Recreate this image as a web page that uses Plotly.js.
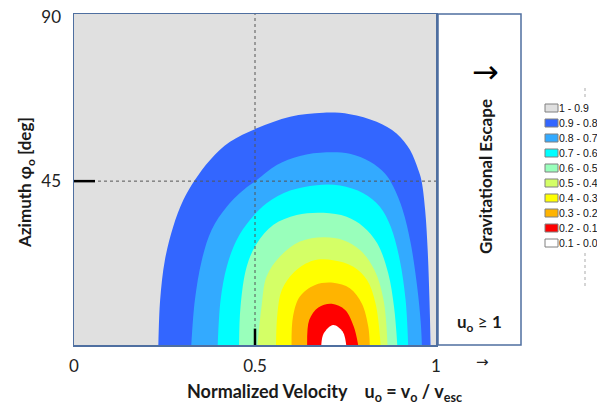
<!DOCTYPE html>
<html>
<head>
<meta charset="utf-8">
<script src="https://cdn.plot.ly/plotly-3.0.1.min.js"></script>
<style>
  html, body { margin: 0; padding: 0; background: #ffffff; }
  #chart { width: 597px; height: 408px; }
</style>
</head>
<body>
<div id="chart"></div>
<script>
// Probability bands, outermost first
const bandLabels = ['1 - 0.9', '0.9 - 0.8', '0.8 - 0.7', '0.7 - 0.6', '0.6 - 0.5',
                    '0.5 - 0.4', '0.4 - 0.3', '0.3 - 0.2', '0.2 - 0.1', '0.1 - 0.0'];
const bandColors = ['#e0e0e0', '#3366ff', '#33aaff', '#00ffff', '#99ffbb',
                    '#d4ff66', '#ffff00', '#ffb400', '#ff0000', '#ffffff'];

// Contour boundaries: normalized velocity u and azimuth phi [deg]
const level09U   = [0.233, 0.238, 0.251, 0.274, 0.302, 0.334, 0.376, 0.431, 0.505, 0.597, 0.689, 0.762, 0.836, 0.891, 0.928, 0.951, 0.960, 0.970, 0.977, 0.982, 0.985];
const level09Phi = [0, 12.4, 23.3, 32.5, 39.8, 45.3, 50.8, 55.8, 59.5, 62.7, 63.8, 63.4, 61.3, 58.1, 53.6, 48.1, 45.1, 37.1, 26.1, 12.4, 0];

const level08U   = [0.324, 0.334, 0.353, 0.380, 0.422, 0.477, 0.505, 0.560, 0.624, 0.698, 0.762, 0.818, 0.859, 0.882, 0.908, 0.930, 0.948, 0.958, 0.961];
const level08Phi = [0, 12.4, 23.3, 31.6, 38.0, 43.3, 45.3, 49.4, 51.9, 52.9, 52.5, 50.3, 47.1, 43.5, 37.1, 28.0, 16.0, 6.0, 0];

const level07U   = [0.397, 0.405, 0.422, 0.449, 0.486, 0.532, 0.597, 0.670, 0.735, 0.799, 0.845, 0.875, 0.900, 0.916, 0.923];
const level07Phi = [0, 12.4, 21.5, 28.8, 34.3, 38.9, 42.4, 43.9, 43.8, 41.7, 38.0, 32.5, 23.3, 12.4, 0];

const level06U   = [0.456, 0.460, 0.477, 0.505, 0.551, 0.615, 0.689, 0.753, 0.799, 0.838, 0.868, 0.884, 0.893];
const level06Phi = [0, 10.5, 21.5, 27.9, 33.0, 35.7, 36.3, 35.2, 32.5, 27.9, 19.7, 10.5, 0];

const level05U   = [0.507, 0.518, 0.532, 0.569, 0.624, 0.689, 0.744, 0.790, 0.830, 0.855, 0.866];
const level05Phi = [0, 10.5, 18.8, 24.3, 28.4, 29.6, 28.8, 26.1, 20.6, 12.4, 0];

const level04U   = [0.558, 0.562, 0.574, 0.609, 0.661, 0.716, 0.772, 0.809, 0.833, 0.847];
const level04Phi = [0, 8.7, 15.1, 20.1, 23.2, 23.3, 21.5, 17.9, 11.4, 0];

const level03U   = [0.601, 0.605, 0.624, 0.666, 0.716, 0.762, 0.795, 0.813, 0.817];
const level03Phi = [0, 7.8, 13.3, 16.5, 17.1, 15.6, 11.4, 5.0, 0];

const level02U   = [0.644, 0.650, 0.675, 0.712, 0.749, 0.773, 0.785];
const level02Phi = [0, 6.9, 10.3, 11.3, 9.6, 5.0, 0];

const level01U   = [0.683, 0.690, 0.716, 0.742, 0.752];
const level01Phi = [0, 3.2, 5.5, 3.7, 0];

// Axis ticks
const xTickVals = [0, 0.5, 1];
const xTickText = ['0', '0.5', '1'];
const yTickVals = [45, 90];
const yTickText = ['45', '90'];

const boundaries = [
  [level09U, level09Phi], [level08U, level08Phi], [level07U, level07Phi],
  [level06U, level06Phi], [level05U, level05Phi], [level04U, level04Phi],
  [level03U, level03Phi], [level02U, level02Phi], [level01U, level01Phi]
];

// Each boundary encloses the band below it; inner bands are drawn over outer ones
const traces = boundaries.map(([u, phi], i) => ({
  type: 'scatter',
  mode: 'lines',
  x: u,
  y: phi,
  fill: 'toself',
  fillcolor: bandColors[i + 1],
  line: { width: 0, shape: 'spline', smoothing: 1, color: bandColors[i + 1] },
  hoverinfo: 'skip',
  showlegend: false,
  name: bandLabels[i + 1]
}));

const borderColor = 'rgb(79,111,160)';
const textFont = 'Lato, "Open Sans", sans-serif';

// Pixel helpers for the paper-referenced extras around the plot
const L = 74, R = 436, T = 14, B = 345;
const px = x => (x - L) / (R - L);
const py = y => (B - y) / (B - T);

const shapes = [
  // reference lines at phi = 45 deg and u = 0.5
  { type: 'line', xref: 'x', yref: 'y', x0: 0, x1: 1, y0: 45, y1: 45,
    line: { color: '#555', width: 1, dash: '3px,3px' }, layer: 'above' },
  { type: 'line', xref: 'x', yref: 'y', x0: 0.5, x1: 0.5, y0: 0, y1: 90.9,
    line: { color: '#555', width: 1, dash: '3px,3px' }, layer: 'above' },
  { type: 'line', xref: 'x', yref: 'y', x0: 0, x1: 0.058, y0: 45, y1: 45,
    line: { color: '#000', width: 2.5 }, layer: 'above' },
  { type: 'line', xref: 'x', yref: 'y', x0: 0.5, x1: 0.5, y0: 0, y1: 4.5,
    line: { color: '#000', width: 2.5 }, layer: 'above' },
  // escape panel
  { type: 'rect', xref: 'paper', yref: 'paper', x0: px(438), x1: px(521), y0: 0, y1: 1,
    line: { color: borderColor, width: 1.5 }, fillcolor: '#ffffff' },
  // faint dotted guide beside the legend
  { type: 'line', xref: 'paper', yref: 'paper', x0: px(585), x1: px(585), y0: py(88), y1: py(100),
    line: { color: '#c8c8c8', width: 1.5, dash: 'dot' } },
  { type: 'line', xref: 'paper', yref: 'paper', x0: px(585), x1: px(585), y0: py(253), y1: py(286),
    line: { color: '#c8c8c8', width: 1.5, dash: 'dot' } }
];

const annotations = [
  { xref: 'paper', yref: 'paper', x: px(324), y: py(392), xanchor: 'center', yanchor: 'middle', showarrow: false,
    text: '<b>Normalized Velocity\u00a0\u00a0\u00a0 u<sub>o</sub> = v<sub>o</sub> / v<sub>esc</sub></b>',
    font: { family: textFont, size: 18, color: '#1a1a1a' } },
  { xref: 'paper', yref: 'paper', x: px(26), y: py(183), xanchor: 'center', yanchor: 'middle', showarrow: false, textangle: -90,
    text: '<b>Azimuth φ<sub>o</sub> [deg]</b>',
    font: { family: textFont, size: 17, color: '#1a1a1a' } },
  { xref: 'paper', yref: 'paper', x: px(485), y: py(72), xanchor: 'center', yanchor: 'middle', showarrow: false,
    text: '→', font: { family: '"DejaVu Sans", sans-serif', size: 32, color: '#000' } },
  { xref: 'paper', yref: 'paper', x: px(485), y: py(177), xanchor: 'center', yanchor: 'middle', showarrow: false, textangle: -90,
    text: '<b>Gravitational Escape</b>', font: { family: textFont, size: 17, color: '#1a1a1a' } },
  { xref: 'paper', yref: 'paper', x: px(480), y: py(323), xanchor: 'center', yanchor: 'middle', showarrow: false,
    text: '<b>u<sub>o</sub></b> ≥ <b>1</b>', font: { family: textFont, size: 17, color: '#1a1a1a' } },
  { xref: 'paper', yref: 'paper', x: px(482), y: py(362), xanchor: 'center', yanchor: 'middle', showarrow: false,
    text: '→', font: { family: '"DejaVu Sans", sans-serif', size: 15, color: '#222' } }
];

// Legend built from the band arrays
bandLabels.forEach((label, i) => {
  const cy = 108 + 15 * i;
  shapes.push({ type: 'rect', xref: 'paper', yref: 'paper',
    x0: px(545), x1: px(558), y0: py(cy + 4), y1: py(cy - 4),
    fillcolor: bandColors[i], line: { color: '#808080', width: 1 } });
  annotations.push({ xref: 'paper', yref: 'paper', x: px(558), y: py(cy),
    xanchor: 'left', yanchor: 'middle', showarrow: false, text: label, borderpad: 0,
    font: { family: '"Liberation Sans", Arial, sans-serif', size: 10.5, color: '#111' } });
});

const layout = {
  width: 597,
  height: 408,
  margin: { l: L, r: 597 - R, t: T, b: 408 - B },
  paper_bgcolor: '#ffffff',
  plot_bgcolor: bandColors[0],
  showlegend: false,
  xaxis: {
    range: [0, 1], tickvals: xTickVals, ticktext: xTickText,
    showgrid: false, zeroline: false, showline: true, mirror: true,
    linecolor: borderColor, linewidth: 1.5, ticks: '',
    ticklabelstandoff: 5,
    tickfont: { family: textFont, size: 17, color: '#222' }, fixedrange: true
  },
  yaxis: {
    range: [0, 90.9], tickvals: yTickVals, ticktext: yTickText,
    showgrid: false, zeroline: false, showline: true, mirror: true,
    linecolor: borderColor, linewidth: 1.5, ticks: '',
    ticklabelstandoff: 8,
    tickfont: { family: textFont, size: 17, color: '#222' }, fixedrange: true
  },
  shapes: shapes,
  annotations: annotations
};

Plotly.newPlot('chart', traces, layout, { displayModeBar: false, staticPlot: true });
</script>
</body>
</html>
